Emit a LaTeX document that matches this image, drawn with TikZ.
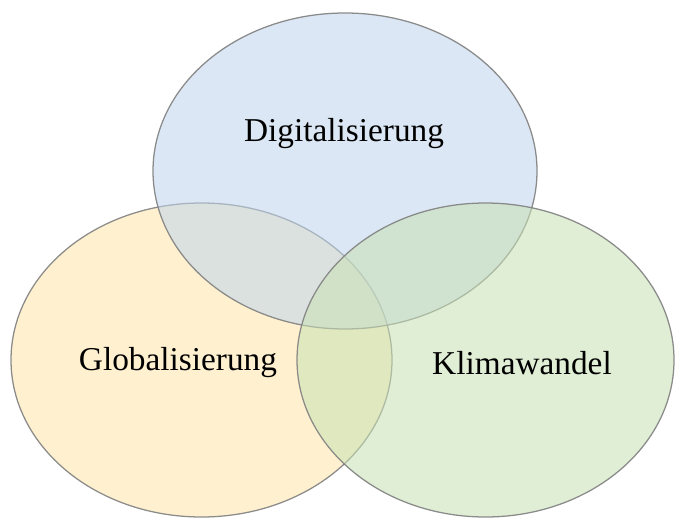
\documentclass[tikz,border=0pt]{standalone}
\usepackage{fontspec}
\setmainfont{Liberation Serif}
\definecolor{digiblue}{RGB}{190,212,236}
\definecolor{globyellow}{RGB}{255,230,170}
\definecolor{klimagreen}{RGB}{200,225,180}
\tikzset{
  setring/.style={draw=black!50,line width=0.9pt,fill opacity=0.55,draw opacity=0.9},
  setlabel/.style={font=\fontsize{23.7}{28}\selectfont,text=black}
}
\begin{document}
\begin{tikzpicture}[x=0.025cm,y=-0.025cm,join=round]
    \useasboundingbox (0,0) rectangle (675,518);
    \fill[white] (0,0) rectangle (675,518);
    \draw[setring,fill=globyellow] (201.5,360) ellipse [x radius=190.5,y radius=157];
    \draw[setring,fill=digiblue] (345,171) ellipse [x radius=192,y radius=158];
    \draw[setring,fill=klimagreen] (485.5,360) ellipse [x radius=188.5,y radius=157];
    \node[setlabel] (digi) at (344,134) {Digitalisierung};
    \node[setlabel] (glob) at (178,363) {Globalisierung};
    \node[setlabel] (klima) at (522,363) {Klimawandel};
\end{tikzpicture}
\end{document}
